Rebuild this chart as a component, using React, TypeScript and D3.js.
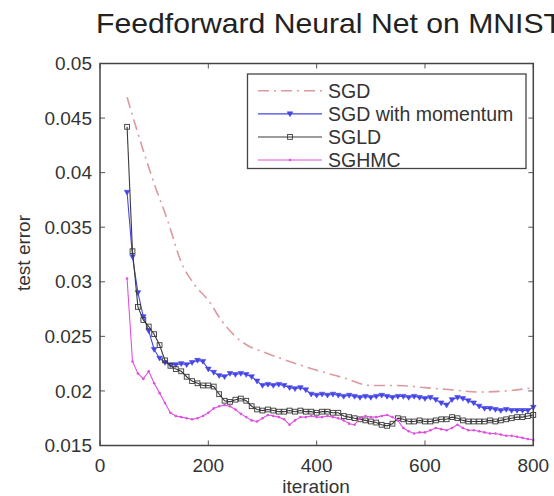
import React, { useEffect, useRef } from 'react';
import * as d3 from 'd3';

const iterations = [
  50, 60, 70, 80, 90, 100, 110, 120, 130, 140, 150, 160, 170, 180, 190, 200,
  210, 220, 230, 240, 250, 260, 270, 280, 290, 300, 310, 320, 330, 340, 350,
  360, 370, 380, 390, 400, 410, 420, 430, 440, 450, 460, 470, 480, 490, 500,
  510, 520, 530, 540, 550, 560, 570, 580, 590, 600, 610, 620, 630, 640, 650,
  660, 670, 680, 690, 700, 710, 720, 730, 740, 750, 760, 770, 780, 790, 800,
];

const sgdIter = [50, 75, 100, 125, 150, 175, 200, 225, 250, 275, 300, 350, 400, 450, 500, 550, 600, 650, 700, 750, 800];
const sgd = [
  0.0469, 0.0428, 0.039, 0.0356, 0.0318, 0.0297, 0.0283, 0.0264, 0.025, 0.0241, 0.0236,
  0.0227, 0.0219, 0.0212, 0.0205, 0.0205, 0.0203, 0.0201, 0.0199, 0.02, 0.0203,
];

const sgdMomentum = [
  0.0382, 0.0323, 0.029, 0.0268, 0.0255, 0.0238, 0.023, 0.0226, 0.0224, 0.0224, 0.0225,
  0.0224, 0.0226, 0.0228, 0.0227, 0.022, 0.0217, 0.0214, 0.0213, 0.0216, 0.0215, 0.0216,
  0.0215, 0.0213, 0.0209, 0.0205, 0.0206, 0.0205, 0.0206, 0.0205, 0.0203, 0.0202, 0.0203,
  0.0201, 0.0197, 0.0196, 0.0197, 0.0196, 0.0197, 0.0196, 0.0195, 0.0196, 0.0195, 0.0194,
  0.0195, 0.0194, 0.0195, 0.0196, 0.0195, 0.0194, 0.0195, 0.0195, 0.0194, 0.0195, 0.0194,
  0.0193, 0.0194, 0.0192, 0.0189, 0.0187, 0.0192, 0.0194, 0.0193, 0.0191, 0.0189, 0.0186,
  0.0184, 0.0184, 0.0183, 0.0182, 0.0183, 0.0182, 0.0182, 0.0182, 0.0182, 0.0185,
];

const sgld = [
  0.0442, 0.0328, 0.0277, 0.0265, 0.0259, 0.0252, 0.0242, 0.0228, 0.0223, 0.022, 0.0218,
  0.0213, 0.0209, 0.0207, 0.0205, 0.0205, 0.0204, 0.0197, 0.0191, 0.019, 0.0192, 0.0193,
  0.0191, 0.0186, 0.0183, 0.0182, 0.0183, 0.0182, 0.0181, 0.0181, 0.0182, 0.0181, 0.0182,
  0.0181, 0.0181, 0.018, 0.0181, 0.0181, 0.018, 0.018, 0.0177, 0.0176, 0.0175, 0.0174,
  0.0173, 0.0172, 0.0171, 0.0169, 0.0168, 0.017, 0.0175, 0.0174, 0.0172, 0.0172, 0.0173,
  0.0172, 0.0172, 0.0173, 0.0174, 0.0174, 0.0176, 0.0175, 0.0173, 0.0172, 0.0172, 0.0172,
  0.0172, 0.0173, 0.0172, 0.0173, 0.0174, 0.0175, 0.0176, 0.0176, 0.0177, 0.0178,
];

const sghmc = [
  0.0303, 0.0227, 0.0216, 0.0211, 0.0218, 0.0207, 0.0198, 0.0189, 0.018, 0.0177, 0.0176,
  0.0175, 0.0174, 0.0175, 0.0177, 0.018, 0.0184, 0.0186, 0.0187, 0.0186, 0.0183, 0.0179,
  0.0176, 0.0173, 0.0172, 0.0175, 0.0178, 0.0177, 0.0176, 0.0174, 0.0169, 0.0173, 0.0176,
  0.0176, 0.0177, 0.0176, 0.0176, 0.0177, 0.0176, 0.0175, 0.0173, 0.017, 0.0169, 0.0175,
  0.0177, 0.0176, 0.0176, 0.0177, 0.0178, 0.0176, 0.0173, 0.0166, 0.0163, 0.0161, 0.0162,
  0.0162, 0.0164, 0.0166, 0.0165, 0.0164, 0.0166, 0.0169, 0.0166, 0.0164, 0.0164, 0.0163,
  0.0162, 0.0161, 0.0161, 0.016, 0.0159, 0.0159, 0.0158, 0.0157, 0.0156, 0.0155,
];

const xTicks = [0, 200, 400, 600, 800];
const yTicks = [0.015, 0.02, 0.025, 0.03, 0.035, 0.04, 0.045, 0.05];
const legendLabels = ['SGD', 'SGD with momentum', 'SGLD', 'SGHMC'];

const FONT = 'Liberation Sans, Arial, Helvetica, sans-serif';

const App = () => {
  const svgRef = useRef(null);

  useEffect(() => {
    const root = d3.select(svgRef.current);
    root.selectAll('*').remove();

    const left = 100, right = 533.3, top = 63.5, bottom = 445.5;
    const x = d3.scaleLinear().domain([0, 800]).range([left, right]);
    const y = d3.scaleLinear().domain([0.015, 0.05]).range([bottom, top]);

    root.append('rect').attr('width', 554).attr('height', 496).attr('fill', '#fff');

    // title (runs off the right edge, like the reference)
    root.append('text')
      .attr('x', 96).attr('y', 33)
      .attr('font-family', FONT).attr('font-size', 28).attr('fill', '#222')
      .attr('textLength', 466).attr('lengthAdjust', 'spacingAndGlyphs')
      .text('Feedforward Neural Net on MNIST');

    // ticks, inward on all four sides
    const tickLen = 5;
    const ticks = root.append('g').attr('stroke', '#555').attr('stroke-width', 1);
    xTicks.forEach(t => {
      ticks.append('line').attr('x1', x(t)).attr('x2', x(t)).attr('y1', bottom).attr('y2', bottom - tickLen);
      ticks.append('line').attr('x1', x(t)).attr('x2', x(t)).attr('y1', top).attr('y2', top + tickLen);
    });
    yTicks.forEach(t => {
      ticks.append('line').attr('x1', left).attr('x2', left + tickLen).attr('y1', y(t)).attr('y2', y(t));
      ticks.append('line').attr('x1', right).attr('x2', right - tickLen).attr('y1', y(t)).attr('y2', y(t));
    });

    root.append('g').selectAll('text').data(xTicks).enter().append('text')
      .attr('x', d => x(d)).attr('y', 472)
      .attr('text-anchor', 'middle')
      .attr('font-family', FONT).attr('font-size', 19).attr('fill', '#333')
      .text(d => d);

    root.append('g').selectAll('text').data(yTicks).enter().append('text')
      .attr('x', 92).attr('y', d => y(d)).attr('dy', '0.35em')
      .attr('text-anchor', 'end')
      .attr('font-family', FONT).attr('font-size', 19).attr('fill', '#333')
      .text(d => String(+d.toFixed(3)));

    root.append('text')
      .attr('x', 316).attr('y', 493)
      .attr('text-anchor', 'middle')
      .attr('font-family', FONT).attr('font-size', 19).attr('fill', '#333')
      .text('iteration');

    root.append('text')
      .attr('transform', 'translate(30,253) rotate(-90)')
      .attr('text-anchor', 'middle')
      .attr('font-family', FONT).attr('font-size', 19).attr('fill', '#333')
      .text('test error');

    const line = d3.line().x(d => x(d[0])).y(d => y(d[1]));
    const plot = root.append('g');

    // SGD, dash-dot
    plot.append('path')
      .datum(sgdIter.map((it, i) => [it, sgd[i]]))
      .attr('d', d3.line().curve(d3.curveMonotoneX).x(d => x(d[0])).y(d => y(d[1])))
      .attr('fill', 'none').attr('stroke', '#dc9a9e').attr('stroke-width', 1.6)
      .attr('stroke-dasharray', '11,5,2,5');

    const series = [
      { values: sgdMomentum, color: '#4646e6', marker: 'tri' },
      { values: sgld, color: '#3a3a3a', marker: 'square' },
      { values: sghmc, color: '#e050e0', marker: 'dot' },
    ];

    const drawMarker = (g, kind, color, cx, cy) => {
      if (kind === 'tri') {
        g.append('path')
          .attr('d', `M${cx - 2.8},${cy - 2}L${cx + 2.8},${cy - 2}L${cx},${cy + 2.8}Z`)
          .attr('fill', color).attr('stroke', color).attr('stroke-width', 0.6);
      } else if (kind === 'square') {
        g.append('rect')
          .attr('x', cx - 2.4).attr('y', cy - 2.4).attr('width', 4.8).attr('height', 4.8)
          .attr('fill', 'none').attr('stroke', color).attr('stroke-width', 0.9);
      } else {
        g.append('circle').attr('cx', cx).attr('cy', cy).attr('r', 1.3).attr('fill', color);
      }
    };

    series.forEach(s => {
      const pts = iterations.map((it, i) => [it, s.values[i]]);
      plot.append('path').datum(pts).attr('d', line)
        .attr('fill', 'none').attr('stroke', s.color).attr('stroke-width', 1.1);
      const mg = plot.append('g');
      pts.forEach(p => drawMarker(mg, s.marker, s.color, x(p[0]), y(p[1])));
    });

    // frame
    root.append('rect')
      .attr('x', left).attr('y', top).attr('width', right - left).attr('height', bottom - top)
      .attr('fill', 'none').attr('stroke', '#444').attr('stroke-width', 1.5);

    // legend
    const lg = root.append('g');
    lg.append('rect')
      .attr('x', 247.5).attr('y', 74).attr('width', 278.5).attr('height', 94.5)
      .attr('fill', '#fff').attr('stroke', '#444').attr('stroke-width', 1.3);
    const colors = ['#dc9a9e', '#4646e6', '#3a3a3a', '#e050e0'];
    const markers = [null, 'tri', 'square', 'dot'];
    const rowY = d3.scaleLinear().domain([0, 3]).range([90.8, 160]);
    legendLabels.forEach((label, i) => {
      const cy = rowY(i);
      const ln = lg.append('line')
        .attr('x1', 258).attr('x2', 322).attr('y1', cy).attr('y2', cy)
        .attr('stroke', colors[i]).attr('stroke-width', i === 0 ? 1.6 : 1.1);
      if (i === 0) ln.attr('stroke-dasharray', '11,5,2,5');
      if (markers[i]) drawMarker(lg, markers[i], colors[i], 290, cy);
      lg.append('text')
        .attr('x', 328).attr('y', cy).attr('dy', '0.36em')
        .attr('font-family', FONT).attr('font-size', 19.5).attr('fill', '#333')
        .text(label);
    });
  }, []);

  return <svg ref={svgRef} width={554} height={496} style={{ position: 'absolute', left: 0, top: 0 }} />;
};

export default App;
